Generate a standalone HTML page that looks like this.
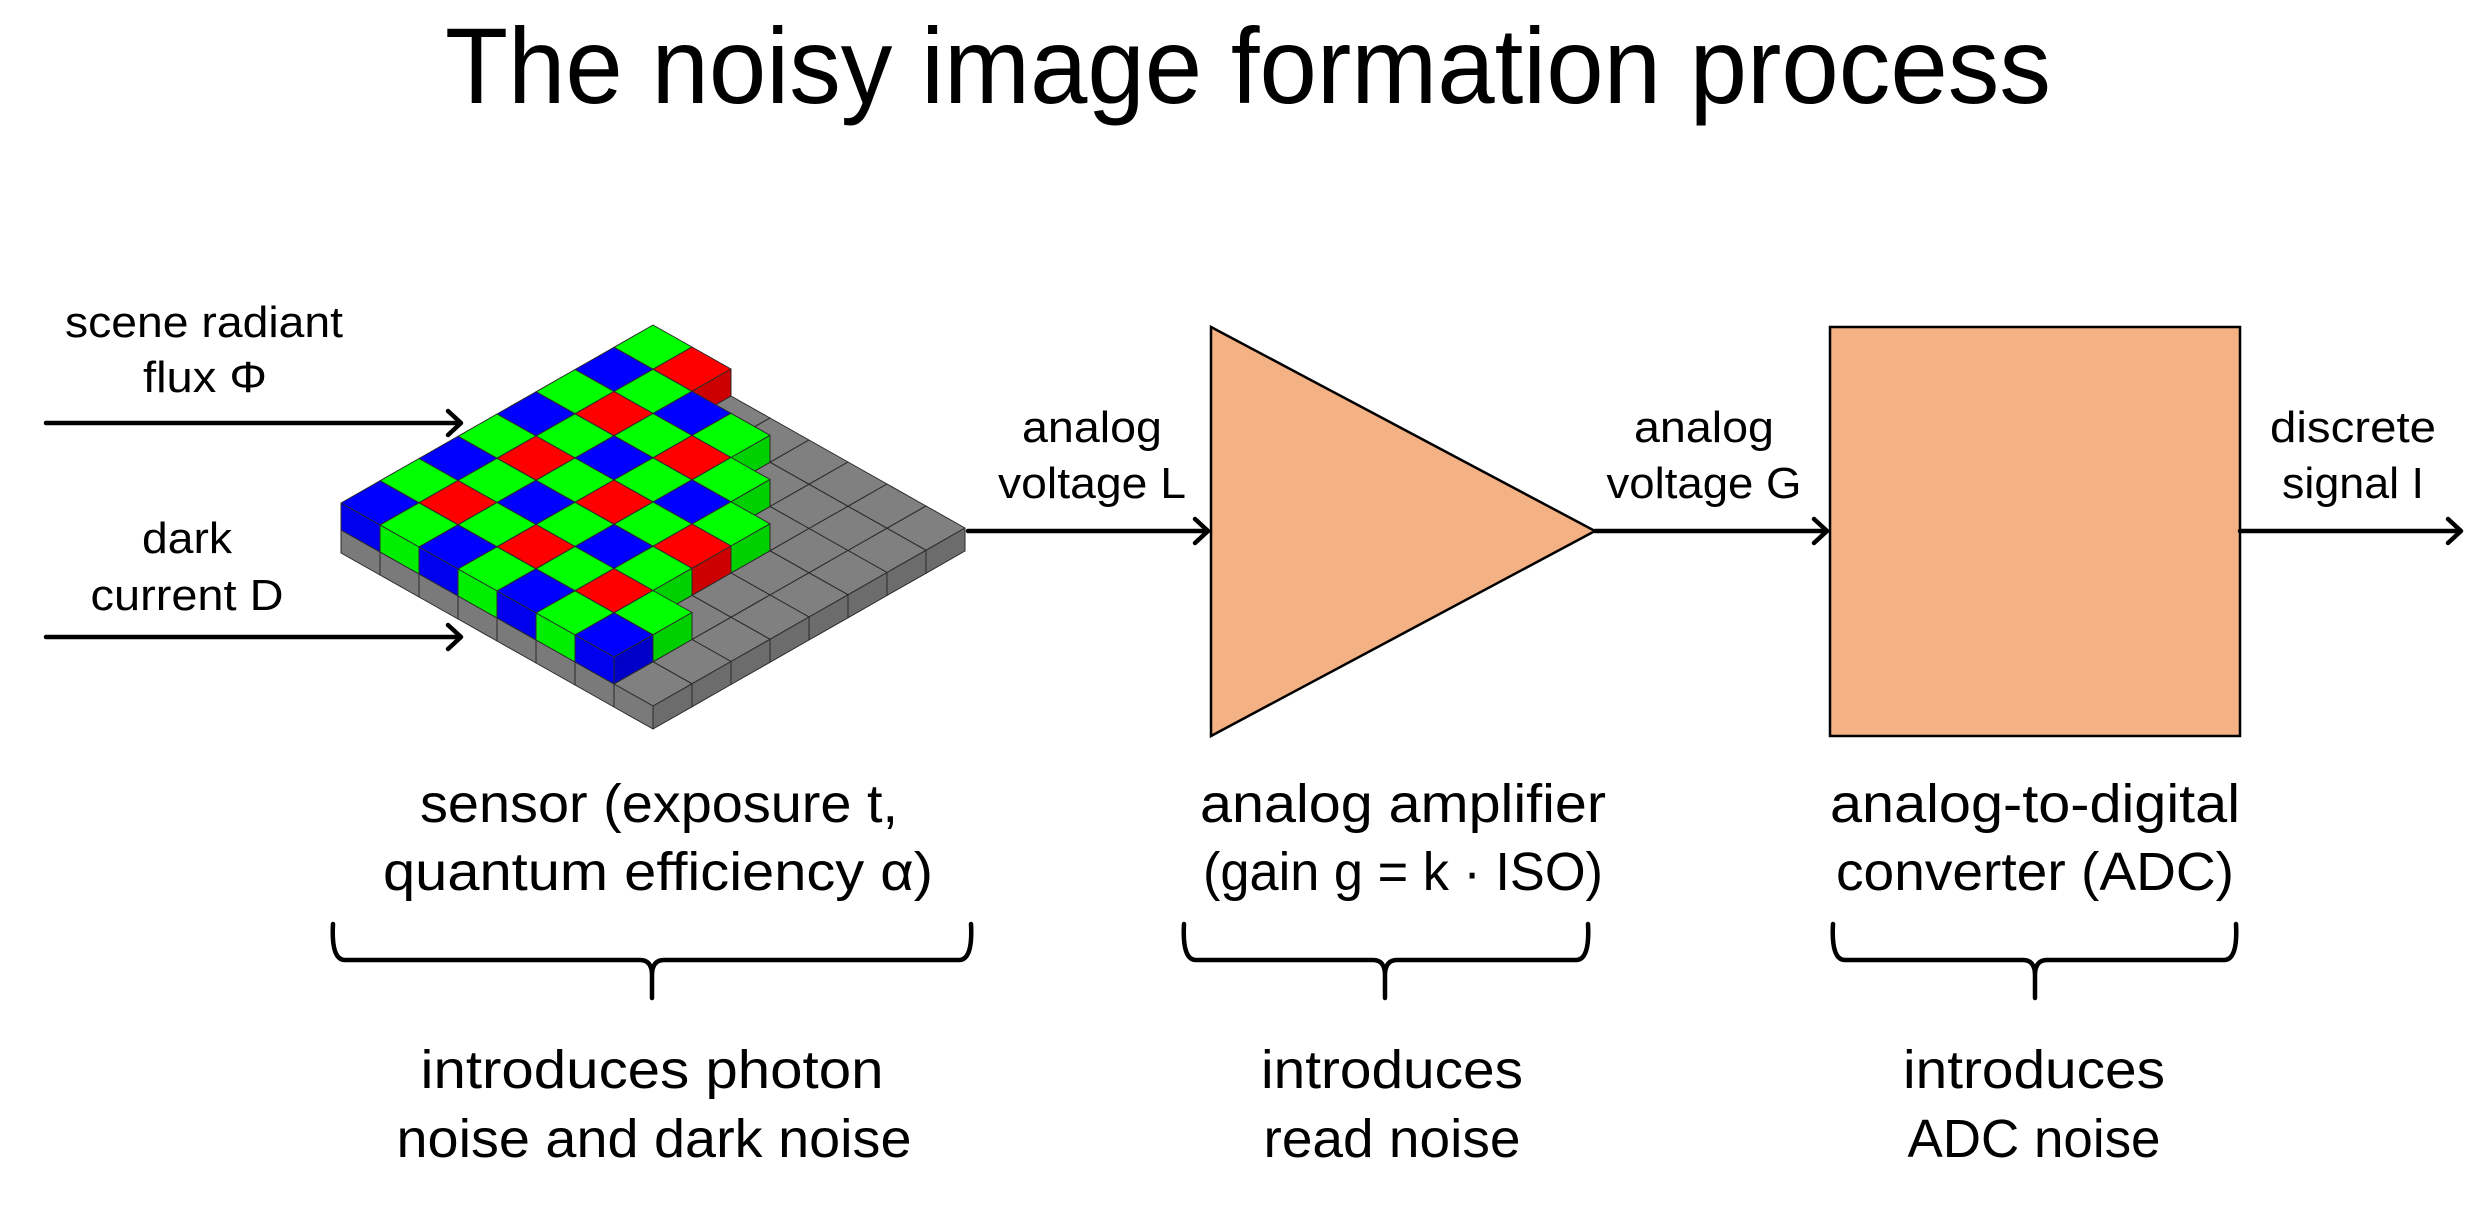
<!DOCTYPE html>
<html><head><meta charset="utf-8"><style>
html,body{margin:0;padding:0;background:#fff;}
svg{display:block;}
text{font-family:"Liberation Sans",sans-serif;fill:#000;}
</style></head><body>
<svg id="s" width="2480" height="1218" viewBox="0 0 2480 1218" xmlns="http://www.w3.org/2000/svg">
<rect width="2480" height="1218" fill="#fff"/>
<text x="1248" y="103" font-size="108" text-anchor="middle" textLength="1606" lengthAdjust="spacingAndGlyphs">The noisy image formation process</text>

<g font-size="44" text-anchor="middle">
<text x="204" y="337" textLength="278" lengthAdjust="spacingAndGlyphs">scene radiant</text>
<text x="205" y="392" textLength="124" lengthAdjust="spacingAndGlyphs">flux Φ</text>
<text x="187" y="553" textLength="90" lengthAdjust="spacingAndGlyphs">dark</text>
<text x="187" y="610" textLength="193" lengthAdjust="spacingAndGlyphs">current D</text>
<text x="1092" y="442" textLength="140" lengthAdjust="spacingAndGlyphs">analog</text>
<text x="1092" y="498" textLength="188" lengthAdjust="spacingAndGlyphs">voltage L</text>
<text x="1704" y="442" textLength="140" lengthAdjust="spacingAndGlyphs">analog</text>
<text x="1704" y="498" textLength="195" lengthAdjust="spacingAndGlyphs">voltage G</text>
<text x="2353" y="442" textLength="166" lengthAdjust="spacingAndGlyphs">discrete</text>
<text x="2353" y="498" textLength="142" lengthAdjust="spacingAndGlyphs">signal I</text>
</g>

<g font-size="54" text-anchor="middle">
<text x="659" y="822" textLength="478" lengthAdjust="spacingAndGlyphs">sensor (exposure t,</text>
<text x="658" y="890" textLength="550" lengthAdjust="spacingAndGlyphs">quantum efficiency α)</text>
<text x="1403" y="822" textLength="406" lengthAdjust="spacingAndGlyphs">analog amplifier</text>
<text x="1403" y="890" textLength="400" lengthAdjust="spacingAndGlyphs">(gain g = k · ISO)</text>
<text x="2035" y="822" textLength="410" lengthAdjust="spacingAndGlyphs">analog-to-digital</text>
<text x="2035" y="890" textLength="398" lengthAdjust="spacingAndGlyphs">converter (ADC)</text>
<text x="652" y="1088" textLength="463" lengthAdjust="spacingAndGlyphs">introduces photon</text>
<text x="654" y="1157" textLength="515" lengthAdjust="spacingAndGlyphs">noise and dark noise</text>
<text x="1392" y="1088" textLength="262" lengthAdjust="spacingAndGlyphs">introduces</text>
<text x="1392" y="1157" textLength="257" lengthAdjust="spacingAndGlyphs">read noise</text>
<text x="2034" y="1088" textLength="262" lengthAdjust="spacingAndGlyphs">introduces</text>
<text x="2034" y="1157" textLength="253" lengthAdjust="spacingAndGlyphs">ADC noise</text>
</g>

<polygon points="1211,327 1211,736 1595,531" fill="#f4b183" stroke="#000" stroke-width="2.5"/>
<rect x="1830" y="327" width="410" height="409" fill="#f4b183" stroke="#000" stroke-width="2.5"/>

<g stroke="#000" stroke-width="4.5" fill="none" stroke-linecap="round" stroke-linejoin="round">
<line x1="46" y1="423" x2="460" y2="423"/><polyline points="448,411 461,423 448,435"/>
<line x1="46" y1="637" x2="460" y2="637"/><polyline points="448,625 461,637 448,649"/>
<line x1="968" y1="531" x2="1207" y2="531"/><polyline points="1195,519 1208,531 1195,543"/>
<line x1="1595" y1="531" x2="1826" y2="531"/><polyline points="1814,519 1827,531 1814,543"/>
<line x1="2240" y1="531" x2="2460" y2="531"/><polyline points="2448,519 2461,531 2448,543"/>
<path d="M333,924 Q331,960 345,960 L640,960 Q652,960 652,975 L652,998 M652,998 L652,975 Q652,960 664,960 L959,960 Q973,960 971,924"/>
<path d="M1184,924 Q1182,960 1196,960 L1373,960 Q1385,960 1385,975 L1385,998 M1385,975 Q1385,960 1397,960 L1576,960 Q1590,960 1588,924"/>
<path d="M1833,924 Q1831,960 1845,960 L2023,960 Q2035,960 2035,975 L2035,998 M2035,975 Q2035,960 2047,960 L2224,960 Q2238,960 2236,924"/>
</g>
<g id="cubes"></g>
</svg>
<script>
(function(){
var g=document.getElementById('cubes'),NS='http://www.w3.org/2000/svg';
var h=27,gt=23;
function P(a,b,t){return [341+39*(a+b),503-22.25*a+22*b+t];}
function poly(pts,fill){var p=document.createElementNS(NS,'polygon');
p.setAttribute('points',pts.map(function(q){return q[0].toFixed(1)+','+q[1].toFixed(1)}).join(' '));
p.setAttribute('fill',fill);p.setAttribute('stroke','#2a2a2a');p.setAttribute('stroke-width','1');p.setAttribute('stroke-linejoin','round');g.appendChild(p);}
function cube(i,j,t,hh,c){
var a=P(i,j,t),b=P(i+1,j,t),c2=P(i+1,j+1,t),d=P(i,j+1,t);
function dn(q){return [q[0],q[1]+hh];}
poly([a,b,c2,d],c[0]);
poly([a,d,dn(d),dn(a)],c[1]);
poly([d,c2,dn(c2),dn(d)],c[2]);}
var cells=[];for(var i=0;i<8;i++)for(var j=0;j<8;j++)cells.push([i,j]);
cells.sort(function(x,y){return (x[1]-x[0])-(y[1]-y[0]);});
var gray=['#808080','#7a7a7a','#6c6c6c'];
cells.forEach(function(c){cube(c[0],c[1],h,gt,gray);});
var maxj=[6,6,5,5,5,4,3,1];
var B=['#0000ff','#0000ee','#0000c8'],R=['#ff0000','#ee0000','#cc0000'],G=['#00ff00','#00ee00','#00d000'];
cells.forEach(function(c){var i=c[0],j=c[1];if(j>maxj[i])return;
var col=(i%2==0&&j%2==0)?B:((i%2==1&&j%2==1)?R:G);cube(i,j,0,h,col);});
})();
</script>
</body></html>
